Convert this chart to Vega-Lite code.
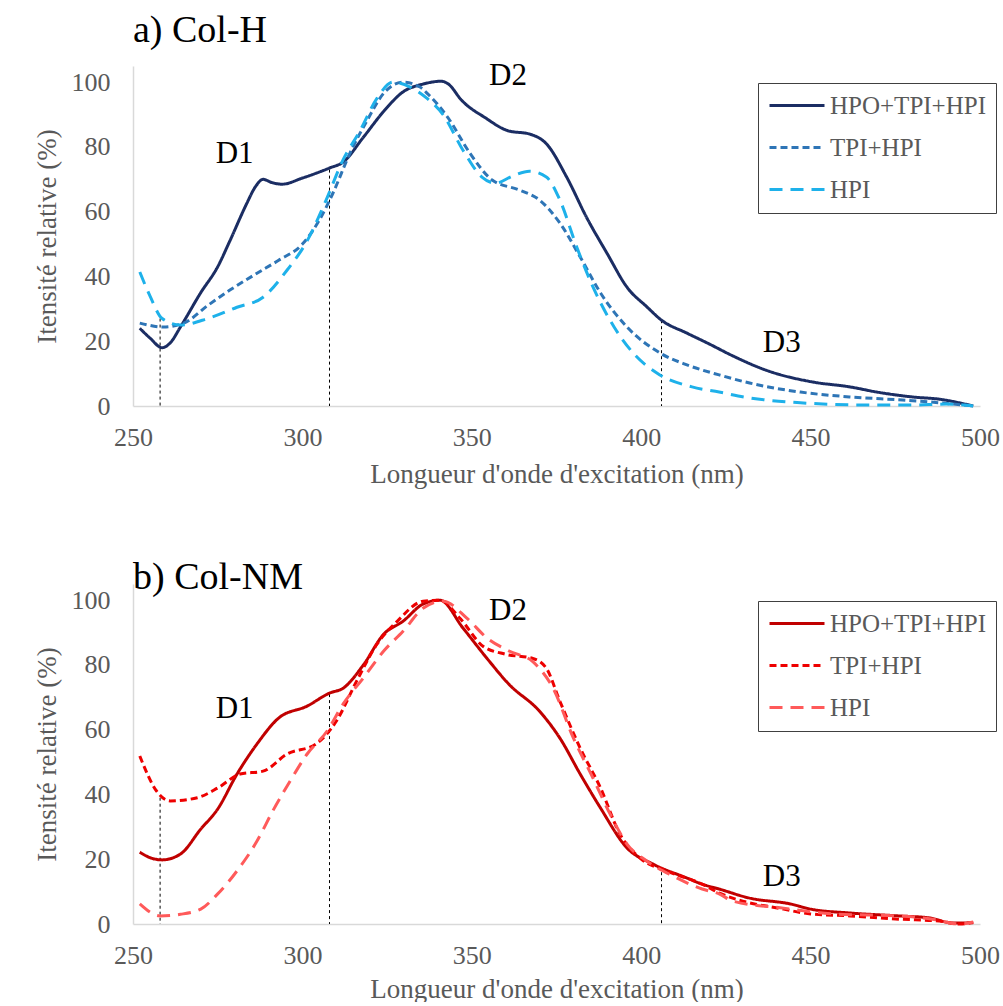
{
"$schema": "https://vega.github.io/schema/vega-lite/v6.json",
"background": "white",
"padding": {"left": 33, "top": 12, "right": 8, "bottom": 0},
"config": {
  "font": "Liberation Serif",
  "view": {"stroke": null},
  "axis": {"grid": false, "domainColor": "#d9d9d9", "domainWidth": 1.5, "ticks": false, "labelColor": "#595959", "titleColor": "#595959", "labelFontSize": 26, "titleFontSize": 27, "titleFontWeight": "normal", "labelFont": "Liberation Serif", "titleFont": "Liberation Serif", "labelFlush": false},
  "title": {"fontSize": 38, "fontWeight": "normal", "anchor": "start", "frame": "group", "color": "black", "font": "Liberation Serif"},
  "legend": {"orient": "none", "legendX": 625, "legendY": 17, "strokeColor": "#404040", "fillColor": "white", "padding": 10, "labelFontSize": 25, "labelColor": "#595959", "labelFont": "Liberation Serif", "symbolType": "M-1,0H4", "symbolSize": 484, "symbolStrokeWidth": 3, "rowPadding": 16, "labelOffset": 37},
  "concat": {"spacing": 72}
},
"datasets": {
  "a": [
    {"s":"HPO+TPI+HPI","x":252,"v":24},{"s":"HPO+TPI+HPI","x":255,"v":21},{"s":"HPO+TPI+HPI","x":258.6,"v":18},{"s":"HPO+TPI+HPI","x":261,"v":19.5},{"s":"HPO+TPI+HPI","x":264,"v":24.4},{"s":"HPO+TPI+HPI","x":270,"v":35},{"s":"HPO+TPI+HPI","x":275,"v":43},{"s":"HPO+TPI+HPI","x":278.6,"v":51},{"s":"HPO+TPI+HPI","x":283.6,"v":62.6},{"s":"HPO+TPI+HPI","x":286,"v":67.5},{"s":"HPO+TPI+HPI","x":288.4,"v":70},{"s":"HPO+TPI+HPI","x":291,"v":69},{"s":"HPO+TPI+HPI","x":294,"v":68.5},{"s":"HPO+TPI+HPI","x":300,"v":70.4},{"s":"HPO+TPI+HPI","x":308,"v":73.5},{"s":"HPO+TPI+HPI","x":312,"v":75.3},{"s":"HPO+TPI+HPI","x":318,"v":83},{"s":"HPO+TPI+HPI","x":324,"v":91},{"s":"HPO+TPI+HPI","x":329.7,"v":97},{"s":"HPO+TPI+HPI","x":335.6,"v":99.4},{"s":"HPO+TPI+HPI","x":341,"v":100.3},{"s":"HPO+TPI+HPI","x":343,"v":99.5},{"s":"HPO+TPI+HPI","x":347,"v":94.4},{"s":"HPO+TPI+HPI","x":354,"v":89},{"s":"HPO+TPI+HPI","x":360.7,"v":85},{"s":"HPO+TPI+HPI","x":367,"v":84},{"s":"HPO+TPI+HPI","x":372,"v":81},{"s":"HPO+TPI+HPI","x":378,"v":70.7},{"s":"HPO+TPI+HPI","x":384,"v":58},{"s":"HPO+TPI+HPI","x":390,"v":47},{"s":"HPO+TPI+HPI","x":395.8,"v":36.7},{"s":"HPO+TPI+HPI","x":401.7,"v":30.6},{"s":"HPO+TPI+HPI","x":406,"v":26.5},{"s":"HPO+TPI+HPI","x":413.5,"v":22.5},{"s":"HPO+TPI+HPI","x":420,"v":19.2},{"s":"HPO+TPI+HPI","x":427,"v":15.5},{"s":"HPO+TPI+HPI","x":437,"v":11},{"s":"HPO+TPI+HPI","x":450.7,"v":7.4},{"s":"HPO+TPI+HPI","x":461.6,"v":5.9},{"s":"HPO+TPI+HPI","x":469.6,"v":4.3},{"s":"HPO+TPI+HPI","x":480,"v":2.8},{"s":"HPO+TPI+HPI","x":488,"v":2.1},{"s":"HPO+TPI+HPI","x":498,"v":0},
    {"s":"TPI+HPI","x":252,"v":25.6},{"s":"TPI+HPI","x":259,"v":24.4},{"s":"TPI+HPI","x":265,"v":25.6},{"s":"TPI+HPI","x":272,"v":31},{"s":"TPI+HPI","x":278.6,"v":35.8},{"s":"TPI+HPI","x":286.6,"v":41},{"s":"TPI+HPI","x":293,"v":45},{"s":"TPI+HPI","x":300,"v":50},{"s":"TPI+HPI","x":305,"v":57.4},{"s":"TPI+HPI","x":309,"v":65.7},{"s":"TPI+HPI","x":314,"v":78},{"s":"TPI+HPI","x":319,"v":88},{"s":"TPI+HPI","x":324,"v":96.6},{"s":"TPI+HPI","x":329.7,"v":100},{"s":"TPI+HPI","x":334.7,"v":98.5},{"s":"TPI+HPI","x":337,"v":96.4},{"s":"TPI+HPI","x":343,"v":89},{"s":"TPI+HPI","x":349.5,"v":78},{"s":"TPI+HPI","x":356,"v":69.8},{"s":"TPI+HPI","x":364,"v":66.7},{"s":"TPI+HPI","x":370,"v":63.6},{"s":"TPI+HPI","x":376,"v":56.5},{"s":"TPI+HPI","x":382,"v":46},{"s":"TPI+HPI","x":388,"v":34.9},{"s":"TPI+HPI","x":395.8,"v":24.4},{"s":"TPI+HPI","x":405.5,"v":16.4},{"s":"TPI+HPI","x":413.5,"v":12.7},{"s":"TPI+HPI","x":423,"v":9.6},{"s":"TPI+HPI","x":432,"v":7.1},{"s":"TPI+HPI","x":447,"v":4.3},{"s":"TPI+HPI","x":461.6,"v":2.8},{"s":"TPI+HPI","x":476,"v":1.9},{"s":"TPI+HPI","x":488,"v":1},{"s":"TPI+HPI","x":498,"v":0},
    {"s":"HPI","x":252,"v":41.4},{"s":"HPI","x":255,"v":34},{"s":"HPI","x":258.6,"v":27},{"s":"HPI","x":264,"v":25},{"s":"HPI","x":272,"v":27},{"s":"HPI","x":280.7,"v":30.5},{"s":"HPI","x":288.4,"v":33.6},{"s":"HPI","x":295.5,"v":42},{"s":"HPI","x":301.4,"v":51},{"s":"HPI","x":307,"v":63.6},{"s":"HPI","x":312,"v":76},{"s":"HPI","x":317,"v":85},{"s":"HPI","x":322,"v":95},{"s":"HPI","x":326.7,"v":100},{"s":"HPI","x":331.8,"v":98.5},{"s":"HPI","x":336.8,"v":95},{"s":"HPI","x":341.5,"v":90},{"s":"HPI","x":347.4,"v":79},{"s":"HPI","x":353,"v":70.7},{"s":"HPI","x":357,"v":68.8},{"s":"HPI","x":362,"v":71},{"s":"HPI","x":367,"v":72.5},{"s":"HPI","x":372,"v":70.7},{"s":"HPI","x":376,"v":63.6},{"s":"HPI","x":381,"v":49},{"s":"HPI","x":385.8,"v":36.7},{"s":"HPI","x":392,"v":24.4},{"s":"HPI","x":397.6,"v":16.4},{"s":"HPI","x":405.5,"v":9.6},{"s":"HPI","x":415,"v":5.9},{"s":"HPI","x":423,"v":4.3},{"s":"HPI","x":432,"v":2.5},{"s":"HPI","x":447,"v":1},{"s":"HPI","x":466.6,"v":0.3},{"s":"HPI","x":480,"v":0.3},{"s":"HPI","x":490,"v":0.6},{"s":"HPI","x":498,"v":0}
  ],
  "b": [
    {"s":"HPO+TPI+HPI","x":252,"v":22.2},{"s":"HPO+TPI+HPI","x":255,"v":20.5},{"s":"HPO+TPI+HPI","x":258.6,"v":19.8},{"s":"HPO+TPI+HPI","x":264,"v":21.6},{"s":"HPO+TPI+HPI","x":270,"v":29.3},{"s":"HPO+TPI+HPI","x":275,"v":35.5},{"s":"HPO+TPI+HPI","x":280.7,"v":46.3},{"s":"HPO+TPI+HPI","x":286.6,"v":55.6},{"s":"HPO+TPI+HPI","x":293,"v":63.6},{"s":"HPO+TPI+HPI","x":301.4,"v":67.3},{"s":"HPO+TPI+HPI","x":308,"v":71.3},{"s":"HPO+TPI+HPI","x":312,"v":72.8},{"s":"HPO+TPI+HPI","x":318,"v":80},{"s":"HPO+TPI+HPI","x":324,"v":89.5},{"s":"HPO+TPI+HPI","x":329.7,"v":93.5},{"s":"HPO+TPI+HPI","x":335.6,"v":98.8},{"s":"HPO+TPI+HPI","x":340.6,"v":100},{"s":"HPO+TPI+HPI","x":347.4,"v":91.4},{"s":"HPO+TPI+HPI","x":354.5,"v":82},{"s":"HPO+TPI+HPI","x":361,"v":74},{"s":"HPO+TPI+HPI","x":370,"v":65.7},{"s":"HPO+TPI+HPI","x":376,"v":57.4},{"s":"HPO+TPI+HPI","x":382,"v":46.3},{"s":"HPO+TPI+HPI","x":388,"v":35.8},{"s":"HPO+TPI+HPI","x":395.8,"v":23.5},{"s":"HPO+TPI+HPI","x":403.5,"v":18.5},{"s":"HPO+TPI+HPI","x":413.5,"v":14.2},{"s":"HPO+TPI+HPI","x":418,"v":12.3},{"s":"HPO+TPI+HPI","x":423,"v":10.8},{"s":"HPO+TPI+HPI","x":432,"v":8},{"s":"HPO+TPI+HPI","x":444,"v":6.2},{"s":"HPO+TPI+HPI","x":450,"v":4.6},{"s":"HPO+TPI+HPI","x":461.6,"v":3.4},{"s":"HPO+TPI+HPI","x":476,"v":2.5},{"s":"HPO+TPI+HPI","x":485,"v":1.9},{"s":"HPO+TPI+HPI","x":492,"v":0.3},{"s":"HPO+TPI+HPI","x":498,"v":0.4},
    {"s":"TPI+HPI","x":252,"v":51.9},{"s":"TPI+HPI","x":257,"v":41},{"s":"TPI+HPI","x":261,"v":38},{"s":"TPI+HPI","x":269,"v":39},{"s":"TPI+HPI","x":275,"v":42},{"s":"TPI+HPI","x":281.6,"v":46.3},{"s":"TPI+HPI","x":288.4,"v":47.2},{"s":"TPI+HPI","x":295.5,"v":52.5},{"s":"TPI+HPI","x":304,"v":55.6},{"s":"TPI+HPI","x":310,"v":62.6},{"s":"TPI+HPI","x":316,"v":75},{"s":"TPI+HPI","x":322,"v":86.4},{"s":"TPI+HPI","x":328,"v":93.5},{"s":"TPI+HPI","x":335.6,"v":99.7},{"s":"TPI+HPI","x":340.6,"v":100},{"s":"TPI+HPI","x":346.5,"v":94.4},{"s":"TPI+HPI","x":353.3,"v":85.8},{"s":"TPI+HPI","x":360,"v":83.3},{"s":"TPI+HPI","x":368,"v":82},{"s":"TPI+HPI","x":372,"v":79},{"s":"TPI+HPI","x":376,"v":68.8},{"s":"TPI+HPI","x":382,"v":54.3},{"s":"TPI+HPI","x":388,"v":42},{"s":"TPI+HPI","x":393.7,"v":27.8},{"s":"TPI+HPI","x":399.6,"v":20.4},{"s":"TPI+HPI","x":407.5,"v":16.4},{"s":"TPI+HPI","x":418,"v":12.3},{"s":"TPI+HPI","x":423,"v":9.6},{"s":"TPI+HPI","x":427,"v":8},{"s":"TPI+HPI","x":442,"v":4.6},{"s":"TPI+HPI","x":450,"v":3.1},{"s":"TPI+HPI","x":461.6,"v":2.5},{"s":"TPI+HPI","x":476,"v":1.5},{"s":"TPI+HPI","x":488,"v":0.9},{"s":"TPI+HPI","x":494,"v":0},{"s":"TPI+HPI","x":498,"v":0.5},
    {"s":"HPI","x":252,"v":6.2},{"s":"HPI","x":258,"v":2.5},{"s":"HPI","x":264,"v":3},{"s":"HPI","x":270,"v":4.6},{"s":"HPI","x":275,"v":9.3},{"s":"HPI","x":280.7,"v":16.4},{"s":"HPI","x":286.6,"v":25.6},{"s":"HPI","x":291.3,"v":35},{"s":"HPI","x":296.3,"v":44},{"s":"HPI","x":301.4,"v":52.5},{"s":"HPI","x":307.3,"v":59.6},{"s":"HPI","x":312,"v":67.9},{"s":"HPI","x":318,"v":76},{"s":"HPI","x":324,"v":84.3},{"s":"HPI","x":329.7,"v":90.4},{"s":"HPI","x":335.6,"v":97.5},{"s":"HPI","x":341.5,"v":99.7},{"s":"HPI","x":348.6,"v":94.4},{"s":"HPI","x":354.5,"v":88.3},{"s":"HPI","x":361,"v":84.3},{"s":"HPI","x":368,"v":81},{"s":"HPI","x":374,"v":72.8},{"s":"HPI","x":380,"v":57.4},{"s":"HPI","x":385.8,"v":45},{"s":"HPI","x":390.8,"v":34},{"s":"HPI","x":395.8,"v":24.7},{"s":"HPI","x":401.7,"v":19.4},{"s":"HPI","x":409.4,"v":14.8},{"s":"HPI","x":418,"v":10.8},{"s":"HPI","x":423,"v":9.3},{"s":"HPI","x":427,"v":7.1},{"s":"HPI","x":442,"v":4.9},{"s":"HPI","x":457,"v":3.1},{"s":"HPI","x":476,"v":2.5},{"s":"HPI","x":486,"v":1.5},{"s":"HPI","x":494,"v":0},{"s":"HPI","x":498,"v":0.6}
  ],
  "ra": [{"x":258,"v":27},{"x":308,"v":73},{"x":406,"v":26.5}],
  "rb": [{"x":258,"v":39},{"x":308,"v":71},{"x":406,"v":16}],
  "la": [{"t":"D1","x":280,"v":75},{"t":"D2","x":360.7,"v":99},{"t":"D3","x":441.5,"v":16.7}],
  "lb": [{"t":"D1","x":280,"v":63.6},{"t":"D2","x":360.7,"v":93.8},{"t":"D3","x":441.5,"v":11.7}]
},
"vconcat": [
  {
    "width": 847, "height": 340,
    "title": {"text": "a) Col-H", "offset": 10},
    "encoding": {
      "x": {"field": "x", "type": "quantitative", "scale": {"domain": [250, 500], "nice": false, "zero": false},
            "axis": {"title": "Longueur d'onde d'excitation (nm)", "values": [250, 300, 350, 400, 450, 500], "labelPadding": 18, "titlePadding": 11}},
      "y": {"field": "v", "type": "quantitative", "scale": {"domain": [0, 105], "nice": false},
            "axis": {"title": "Itensité relative (%)", "values": [0, 20, 40, 60, 80, 100], "labelPadding": 23, "titlePadding": 10}}
    },
    "layer": [
      {"data": {"name": "ra"}, "mark": {"type": "rule", "color": "black", "strokeDash": [3, 3], "strokeWidth": 1}, "encoding": {"y2": {"datum": 0}}},
      {"data": {"name": "a"}, "mark": {"type": "line", "interpolate": "monotone", "strokeWidth": 3},
       "encoding": {
         "color": {"field": "s", "type": "nominal", "scale": {"domain": ["HPO+TPI+HPI", "TPI+HPI", "HPI"], "range": ["#1b2d63", "#2e75b6", "#1eb1ea"]}, "legend": {"title": null}},
         "strokeDash": {"field": "s", "type": "nominal", "scale": {"domain": ["HPO+TPI+HPI", "TPI+HPI", "HPI"], "range": [[1, 0], [7, 4], [13, 8]]}, "legend": {"title": null}}
       }},
      {"data": {"name": "la"}, "mark": {"type": "text", "fontSize": 31, "font": "Liberation Serif", "color": "black", "baseline": "alphabetic", "align": "center"}, "encoding": {"text": {"field": "t"}}}
    ]
  },
  {
    "width": 847, "height": 340,
    "title": {"text": "b) Col-NM", "offset": -13},
    "encoding": {
      "x": {"field": "x", "type": "quantitative", "scale": {"domain": [250, 500], "nice": false, "zero": false},
            "axis": {"title": "Longueur d'onde d'excitation (nm)", "values": [250, 300, 350, 400, 450, 500], "labelPadding": 18, "titlePadding": 8}},
      "y": {"field": "v", "type": "quantitative", "scale": {"domain": [0, 105], "nice": false},
            "axis": {"title": "Itensité relative (%)", "values": [0, 20, 40, 60, 80, 100], "labelPadding": 23, "titlePadding": 10}}
    },
    "layer": [
      {"data": {"name": "rb"}, "mark": {"type": "rule", "color": "black", "strokeDash": [3, 3], "strokeWidth": 1}, "encoding": {"y2": {"datum": 0}}},
      {"data": {"name": "b"}, "mark": {"type": "line", "interpolate": "monotone", "strokeWidth": 3},
       "encoding": {
         "color": {"field": "s", "type": "nominal", "scale": {"domain": ["HPO+TPI+HPI", "TPI+HPI", "HPI"], "range": ["#c00000", "#ee0000", "#ff5a5a"]}, "legend": {"title": null}},
         "strokeDash": {"field": "s", "type": "nominal", "scale": {"domain": ["HPO+TPI+HPI", "TPI+HPI", "HPI"], "range": [[1, 0], [7, 4], [13, 8]]}, "legend": {"title": null}}
       }},
      {"data": {"name": "lb"}, "mark": {"type": "text", "fontSize": 31, "font": "Liberation Serif", "color": "black", "baseline": "alphabetic", "align": "center"}, "encoding": {"text": {"field": "t"}}}
    ]
  }
],
"resolve": {"scale": {"color": "independent", "strokeDash": "independent", "x": "independent", "y": "independent"}, "legend": {"color": "independent", "strokeDash": "independent"}}
}
